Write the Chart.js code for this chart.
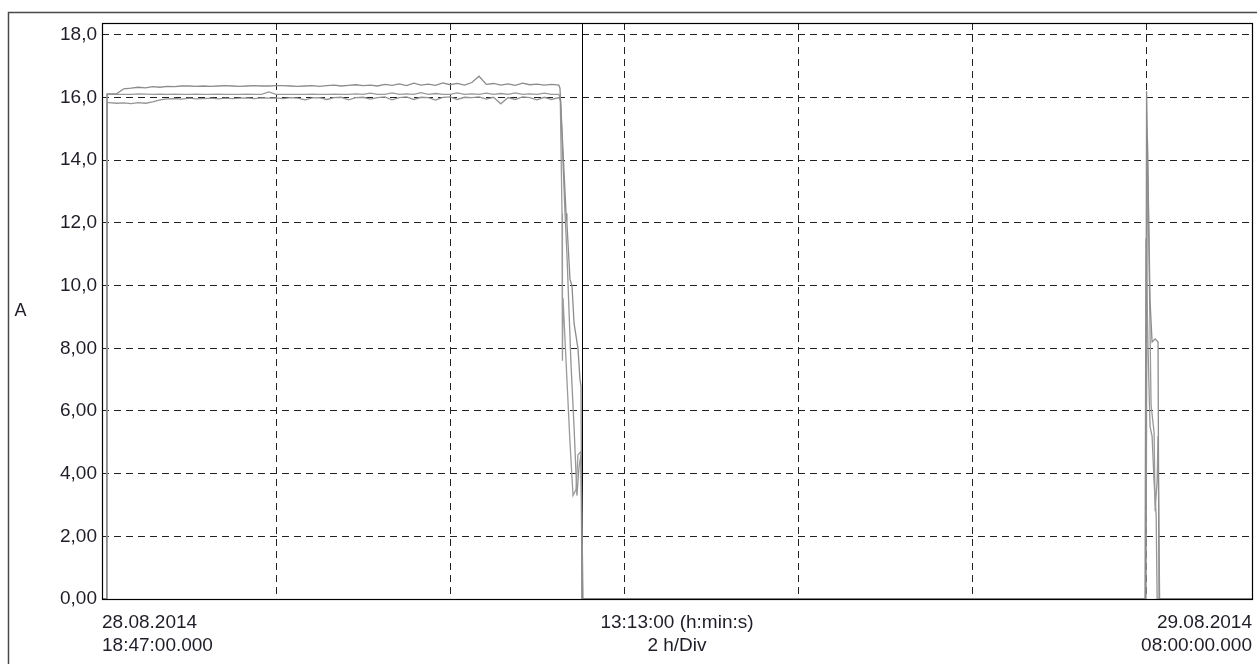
<!DOCTYPE html>
<html>
<head>
<meta charset="utf-8">
<script src="https://cdn.jsdelivr.net/npm/chart.js@4.4.1/dist/chart.umd.min.js"></script>
<style>
  html, body { margin: 0; background: #fff; }
  #wrap { width: 1257px; height: 664px; position: relative; }
</style>
</head>
<body>
<div id="wrap"><canvas id="currentChart"></canvas></div>
<script>
// time axis in minutes from 28.08.2014 18:47 (span 13:13:00)
const spanMinutes = 793;
const gridMinutes = [120, 240, 360, 480, 600, 720];
const cursorMinute = 330.8;

const yTickValues = [0, 2, 4, 6, 8, 10, 12, 14, 16, 18];
const yTickLabels = ['0,00', '2,00', '4,00', '6,00', '8,00', '10,0', '12,0', '14,0', '16,0', '18,0'];
const xTickValues = [0, 396.5, 793];
const xTickLabels = [
    ['28.08.2014', '18:47:00.000'],
    ['13:13:00 (h:min:s)', '2 h/Div'],
    ['29.08.2014', '08:00:00.000']
];

const startMinute = 3.3;

const plateauMinutes = [3.5, 5, 10, 15, 20, 25, 30, 35, 40, 45, 50, 55, 60, 65, 70, 75, 80, 85, 90, 95,
    100, 105, 110, 115, 120, 125, 130, 135, 140, 145, 150, 155, 160, 165, 170, 175, 180, 185, 190, 195,
    200, 205, 210, 215, 220, 225, 230, 235, 240, 245, 250, 255, 260, 265, 270, 275, 280, 285, 290, 295,
    300, 305, 310, 315];

const topPlateau = [16.12, 16.12, 16.12, 16.28, 16.30, 16.33, 16.31, 16.35, 16.33, 16.36, 16.35, 16.37, 16.37, 16.36, 16.37, 16.36, 16.37, 16.38, 16.37, 16.36,
    16.37, 16.38, 16.37, 16.37, 16.38, 16.38, 16.37, 16.36, 16.37, 16.38, 16.36, 16.38, 16.40, 16.37, 16.39, 16.41, 16.38, 16.40, 16.37, 16.42,
    16.39, 16.44, 16.38, 16.46, 16.40, 16.43, 16.39, 16.47, 16.41, 16.45, 16.40, 16.48, 16.68, 16.42, 16.45, 16.40, 16.44, 16.39, 16.46, 16.41,
    16.43, 16.40, 16.42, 16.40];

const midPlateau = [16.10, 16.10, 16.10, 16.10, 16.10, 16.12, 16.11, 16.10, 16.11, 16.10, 16.11, 16.10, 16.10, 16.11, 16.10, 16.10, 16.11, 16.10, 16.10, 16.10,
    16.11, 16.10, 16.10, 16.18, 16.10, 16.10, 16.10, 16.10, 16.10, 16.11, 16.10, 16.10, 16.11, 16.10, 16.10, 16.12, 16.10, 16.14, 16.10, 16.10,
    16.15, 16.10, 16.12, 16.10, 16.16, 16.10, 16.13, 16.10, 16.10, 16.15, 16.10, 16.12, 16.10, 16.14, 16.10, 16.13, 16.10, 16.15, 16.10, 16.12,
    16.10, 16.14, 16.10, 16.10];

const lowPlateau = [15.84, 15.84, 15.82, 15.83, 15.81, 15.84, 15.82, 15.86, 15.93, 15.96, 15.97, 15.95, 15.98, 15.96, 15.97, 15.98, 15.96, 15.98, 15.97, 15.98,
    15.99, 15.97, 15.99, 15.98, 15.99, 15.97, 16.00, 15.98, 15.93, 15.99, 16.00, 15.94, 16.00, 16.01, 15.93, 16.00, 16.01, 15.95, 16.00, 16.02,
    15.93, 16.00, 16.02, 15.94, 16.01, 16.00, 15.92, 16.01, 16.02, 15.94, 16.01, 16.00, 16.02, 15.95, 16.01, 15.80, 16.00, 15.94, 16.02, 16.00,
    15.93, 16.01, 15.94, 16.00];

// fall-off after the first run
const topDropMinutes = [315.8, 320.0, 320.6, 322.7, 324.1, 325.5, 328.2, 329.6, 330.3, 331.0];
const topDropValues = [16.3, 12.3, 12.0, 10.2, 10.0, 8.8, 8.0, 7.0, 6.8, 0];
const midDropMinutes = [316.0, 317.2, 317.5, 317.9, 320.6, 322.7, 324.8, 326.9, 328.2, 330.3, 331.0];
const midDropValues = [16.0, 12.3, 7.6, 9.6, 7.0, 5.0, 3.3, 3.5, 4.6, 4.7, 0];
const lowDropMinutes = [316.2, 319.3, 320.6, 323.4, 325.5, 327.5, 328.9, 330.3, 331.7];
const lowDropValues = [15.9, 12.3, 11.0, 7.5, 5.5, 3.3, 4.2, 4.6, 0];

// short spike near 06:47
const topSpikeMinutes = [719.6, 720.3, 721.3, 722.7, 724.1, 726.2, 728.2, 728.9];
const topSpikeValues = [0, 16.2, 13.5, 9.5, 8.2, 8.3, 8.2, 0];
const midSpikeMinutes = [719.9, 720.9, 722.7, 723.4, 725.5, 726.2, 727.6, 728.2, 729.3];
const midSpikeValues = [0, 14.6, 8.5, 6.2, 5.3, 2.8, 3.8, 5.2, 0];
const lowSpikeMinutes = [719.2, 719.9, 721.3, 722.7, 724.1, 725.5, 726.9, 727.6];
const lowSpikeValues = [0, 11.5, 8.0, 5.5, 5.2, 3.7, 2.7, 0];

function buildTrace(plateau, dropT, dropV, spikeT, spikeV) {
    const pts = [{x: 0, y: 0}, {x: startMinute, y: 0}];
    plateauMinutes.forEach((t, i) => pts.push({x: t, y: plateau[i]}));
    dropT.forEach((t, i) => pts.push({x: t, y: dropV[i]}));
    spikeT.forEach((t, i) => pts.push({x: t, y: spikeV[i]}));
    pts.push({x: spanMinutes, y: 0});
    return pts;
}

const textColor = '#1e1e28';
const fontFamily = '"Liberation Sans", Arial, sans-serif';

const framePlugin = {
    id: 'frame',
    beforeDraw(chart) {
        const ctx = chart.ctx;
        ctx.save();
        ctx.strokeStyle = '#4a4a4a';
        ctx.lineWidth = 1.5;
        ctx.strokeRect(8.5, 12.5, chart.width + 20, chart.height + 20);
        ctx.fillStyle = textColor;
        ctx.font = '18px ' + fontFamily;
        ctx.textAlign = 'center';
        ctx.textBaseline = 'middle';
        ctx.fillText('A', 20.5, 311);
        ctx.restore();
    },
    beforeDatasetsDraw(chart) {
        const {ctx, chartArea: a, scales: {x}} = chart;
        ctx.save();
        ctx.strokeStyle = '#222';
        ctx.lineWidth = 1;
        ctx.setLineDash([7, 5]);
        gridMinutes.forEach(m => {
            const px = Math.round(x.getPixelForValue(m)) + 0.5;
            ctx.beginPath();
            ctx.moveTo(px, a.top);
            ctx.lineTo(px, a.bottom);
            ctx.stroke();
        });
        ctx.setLineDash([]);
        ctx.strokeStyle = '#000';
        const cx = Math.round(x.getPixelForValue(cursorMinute)) + 0.5;
        ctx.beginPath();
        ctx.moveTo(cx, a.top);
        ctx.lineTo(cx, a.bottom);
        ctx.stroke();
        ctx.restore();
    },
    afterDatasetsDraw(chart) {
        const {ctx, chartArea: a} = chart;
        ctx.save();
        ctx.strokeStyle = '#000';
        ctx.lineWidth = 1.2;
        ctx.strokeRect(Math.round(a.left) + 0.5, Math.round(a.top) + 0.5,
            Math.round(a.right - a.left), Math.round(a.bottom - a.top));
        ctx.restore();
    }
};

const traceStyle = {
    borderWidth: 1.3,
    pointRadius: 0,
    tension: 0,
    fill: false
};

new Chart(document.getElementById('currentChart'), {
    type: 'line',
    data: {
        datasets: [
            {...traceStyle, label: 'L1', borderColor: '#8c8c8c',
                data: buildTrace(topPlateau, topDropMinutes, topDropValues, topSpikeMinutes, topSpikeValues)},
            {...traceStyle, label: 'L2', borderColor: '#9a9a9a',
                data: buildTrace(midPlateau, midDropMinutes, midDropValues, midSpikeMinutes, midSpikeValues)},
            {...traceStyle, label: 'L3', borderColor: '#959595',
                data: buildTrace(lowPlateau, lowDropMinutes, lowDropValues, lowSpikeMinutes, lowSpikeValues)}
        ]
    },
    options: {
        responsive: true,
        maintainAspectRatio: false,
        animation: false,
        layout: {
            padding: {top: 23, right: 5, left: 0, bottom: 0}
        },
        plugins: {
            legend: {display: false},
            tooltip: {enabled: false}
        },
        scales: {
            x: {
                type: 'linear',
                min: 0,
                max: spanMinutes,
                afterBuildTicks: s => { s.ticks = xTickValues.map(v => ({value: v})); },
                afterFit: s => { s.height = 65; s.paddingLeft = 0; s.paddingRight = 0; },
                grid: {display: false, drawTicks: false},
                border: {display: false},
                ticks: {
                    align: 'inner',
                    autoSkip: false,
                    maxRotation: 0,
                    padding: 13,
                    color: textColor,
                    font: {family: fontFamily, size: 19, lineHeight: 1.18},
                    callback: (v, i) => xTickLabels[i]
                }
            },
            y: {
                min: 0,
                max: 18.38,
                afterBuildTicks: s => { s.ticks = yTickValues.map(v => ({value: v})); },
                afterFit: s => { s.width = 102; },
                grid: {color: '#222', lineWidth: 1, drawTicks: false},
                border: {display: false, dash: [7, 5]},
                ticks: {
                    padding: 5,
                    color: textColor,
                    font: {family: fontFamily, size: 19},
                    callback: (v, i) => yTickLabels[i]
                }
            }
        }
    },
    plugins: [framePlugin]
});
</script>
</body>
</html>
